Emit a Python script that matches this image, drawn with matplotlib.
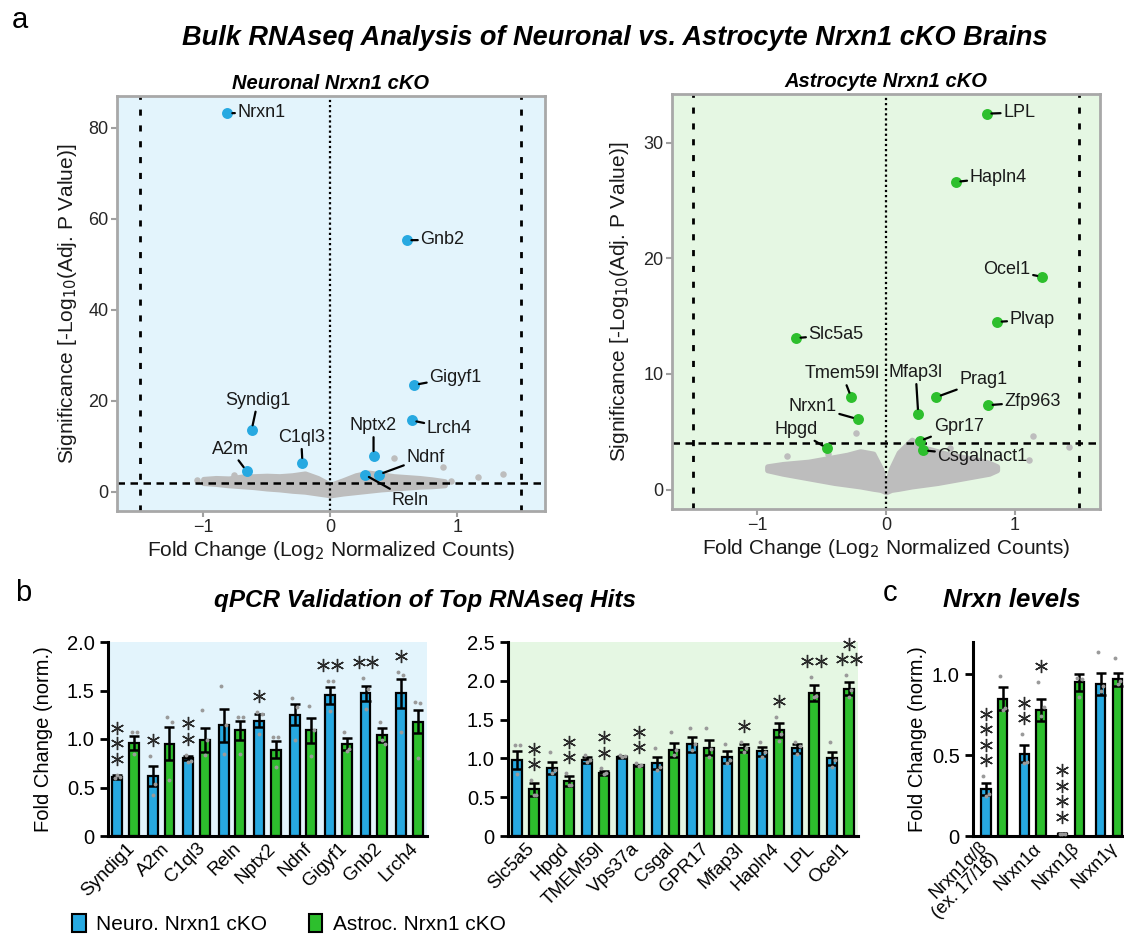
import matplotlib.pyplot as plt
from matplotlib.patches import Patch
from matplotlib.transforms import offset_copy

plt.rcParams['font.family'] = ['Liberation Sans', 'DejaVu Sans']

BLUE = '#27A9E1'
GREEN = '#2DBF2D'
GREY = '#BDBDBD'
DOT = '#9A9A9A'
BG_BLUE = '#E3F4FC'
BG_GREEN = '#E5F7E3'

# ── Volcano data: neuronal Nrxn1 cKO ──────────────────────────────────────
NEU_GENES = ['Nrxn1', 'Gnb2', 'Gigyf1', 'Lrch4', 'Syndig1', 'C1ql3', 'A2m', 'Nptx2', 'Ndnf', 'Reln']
NEU_FC = [-0.81, 0.60, 0.66, 0.64, -0.62, -0.22, -0.66, 0.34, 0.38, 0.27]
NEU_SIG = [83.2, 55.3, 23.5, 15.7, 13.6, 6.4, 4.6, 7.9, 3.8, 3.8]
NEU_OTHER_FC = [-1.05, -0.76, 0.50, 0.89, 1.16, 1.36, 0.95]
NEU_OTHER_SIG = [2.7, 3.7, 7.4, 5.5, 3.3, 4.0, 2.5]
NEU_CLOUD_FC = [-1.0, -0.9, -0.8, -0.7, -0.6, -0.5, -0.4, -0.3, -0.2, -0.1,
                0.0, 0.1, 0.2, 0.3, 0.4, 0.5, 0.6, 0.7, 0.8, 0.9]
NEU_CLOUD_HI = [2.8, 3.0, 2.9, 3.3, 3.4, 3.5, 3.4, 3.6, 4.0, 3.0,
                1.5, 2.5, 3.6, 4.2, 3.8, 3.4, 3.2, 3.0, 2.7, 2.3]
NEU_CLOUD_LO = [2.0, 1.8, 1.5, 1.3, 1.1, 0.8, 0.6, 0.3, 0.1, -0.3,
                -0.7, -0.3, 0.0, 0.3, 0.6, 0.8, 1.0, 1.2, 1.3, 1.5]

# ── Volcano data: astrocyte Nrxn1 cKO ─────────────────────────────────────
AST_GENES = ['LPL', 'Hapln4', 'Ocel1', 'Plvap', 'Slc5a5', 'Tmem59l', 'Nrxn1', 'Hpgd',
             'Mfap3l', 'Prag1', 'Zfp963', 'Gpr17', 'Csgalnact1']
AST_FC = [0.78, 0.54, 1.21, 0.86, -0.70, -0.27, -0.22, -0.46, 0.25, 0.39, 0.79, 0.26, 0.29]
AST_SIG = [32.5, 26.6, 18.4, 14.5, 13.1, 8.0, 6.1, 3.6, 6.55, 8.0, 7.3, 4.2, 3.4]
AST_OTHER_FC = [-0.77, -0.23, 1.14, 1.11, 1.42, -0.45, 0.50]
AST_OTHER_SIG = [2.9, 4.9, 4.6, 2.6, 3.7, 3.1, 3.6]
AST_CLOUD_FC = [-0.92, -0.8, -0.7, -0.6, -0.5, -0.4, -0.3, -0.2, -0.1, -0.04, 0.0,
                0.04, 0.1, 0.2, 0.3, 0.4, 0.5, 0.6, 0.7, 0.8, 0.86]
AST_CLOUD_HI = [2.0, 2.2, 2.3, 2.4, 2.6, 2.8, 3.0, 3.3, 3.1, 1.8, 0.3,
                1.8, 3.2, 4.3, 3.6, 3.3, 3.0, 2.8, 2.6, 2.3, 2.0]
AST_CLOUD_LO = [1.7, 1.4, 1.2, 1.0, 0.8, 0.6, 0.45, 0.3, 0.1, 0.0, -0.2,
                0.0, 0.1, 0.3, 0.45, 0.6, 0.8, 1.0, 1.2, 1.4, 1.7]

# label text placement (x, y, ha)
NEU_LABELS = {
    'Nrxn1': (-0.73, 83.4, 'left'), 'Gnb2': (0.71, 55.4, 'left'),
    'Gigyf1': (0.78, 25.2, 'left'), 'Lrch4': (0.76, 14.0, 'left'),
    'Syndig1': (-0.57, 20.1, 'center'), 'A2m': (-0.79, 9.4, 'center'),
    'C1ql3': (-0.23, 11.9, 'center'), 'Nptx2': (0.34, 14.5, 'center'),
    'Ndnf': (0.60, 7.6, 'left'), 'Reln': (0.48, -1.8, 'left'),
}
AST_LABELS = {
    'LPL': (0.91, 32.6, 'left'), 'Hapln4': (0.65, 27.0, 'left'),
    'Ocel1': (1.12, 19.0, 'right'), 'Plvap': (0.96, 14.7, 'left'),
    'Slc5a5': (-0.60, 13.4, 'left'), 'Tmem59l': (-0.34, 10.0, 'center'),
    'Nrxn1': (-0.57, 7.2, 'center'), 'Hpgd': (-0.70, 5.2, 'center'),
    'Mfap3l': (0.23, 10.1, 'center'), 'Prag1': (0.57, 9.5, 'left'),
    'Zfp963': (0.92, 7.6, 'left'), 'Gpr17': (0.37, 5.5, 'left'),
    'Csgalnact1': (0.40, 2.9, 'left'),
}

# ── qPCR data, neuronal hits ──────────────────────────────────────────────
B1_GENES = ['Syndig1', 'A2m', 'C1ql3', 'Reln', 'Nptx2', 'Ndnf', 'Gigyf1', 'Gnb2', 'Lrch4']
B1_NEURO = [0.61, 0.62, 0.80, 1.14, 1.19, 1.25, 1.45, 1.47, 1.47]
B1_NEURO_ERR = [0.02, 0.10, 0.02, 0.17, 0.07, 0.11, 0.09, 0.08, 0.15]
B1_NEURO_DOTS = [[0.60, 0.61, 0.63], [0.82, 0.54, 0.42], [0.84, 0.77, 0.76],
                 [1.55, 1.14, 0.85], [1.28, 1.26, 1.05], [1.42, 1.33, 0.99],
                 [1.60, 1.60, 1.29], [1.63, 1.52, 1.31], [1.69, 1.66, 1.07]]
B1_NEURO_SIG = ['*\n*\n*', '*', '*\n*', '', '*', '', '**', '**', '*']
B1_ASTRO = [0.96, 0.95, 0.99, 1.09, 0.89, 1.09, 0.95, 1.04, 1.18]
B1_ASTRO_ERR = [0.07, 0.17, 0.12, 0.10, 0.09, 0.13, 0.06, 0.07, 0.12]
B1_ASTRO_DOTS = [[1.07, 1.07, 0.85], [1.23, 1.18, 0.58], [1.30, 0.99, 0.83],
                 [1.23, 1.23, 0.85], [1.02, 1.02, 0.71], [1.34, 1.09, 0.82],
                 [1.07, 0.90, 0.88], [1.18, 0.95, 0.99], [1.38, 1.37, 0.80]]
B1_ASTRO_SIG = [''] * 9

# ── qPCR data, astrocyte hits ─────────────────────────────────────────────
B2_GENES = ['Slc5a5', 'Hpgd', 'TMEM59l', 'Vps37a', 'Csgal', 'GPR17', 'Mfap3l', 'Hapln4', 'LPL', 'Ocel1']
B2_NEURO = [0.98, 0.88, 0.98, 1.02, 0.94, 1.18, 1.02, 1.09, 1.13, 1.00]
B2_NEURO_ERR = [0.12, 0.08, 0.04, 0.01, 0.08, 0.10, 0.08, 0.06, 0.06, 0.08]
B2_NEURO_DOTS = [[1.17, 1.17, 0.80], [1.08, 0.85, 0.81], [1.05, 0.98, 0.95],
                 [1.04, 1.03, 1.02], [1.13, 0.89, 0.85], [1.39, 1.18, 1.11],
                 [1.18, 0.98, 0.94], [1.21, 1.08, 1.02], [1.21, 1.16, 1.06],
                 [1.21, 0.98, 0.89]]
B2_NEURO_SIG = [''] * 10
B2_ASTRO = [0.60, 0.71, 0.81, 0.91, 1.11, 1.14, 1.13, 1.36, 1.84, 1.90]
B2_ASTRO_ERR = [0.08, 0.06, 0.03, 0.01, 0.09, 0.10, 0.05, 0.09, 0.10, 0.08]
B2_ASTRO_DOTS = [[0.72, 0.53, 0.53], [0.81, 0.66, 0.66], [0.87, 0.81, 0.80],
                 [0.94, 0.91, 0.90], [1.34, 1.11, 1.04], [1.39, 1.12, 1.02],
                 [1.21, 1.13, 1.08], [1.53, 1.32, 1.23], [2.05, 1.81, 1.79],
                 [2.07, 1.88, 1.79]]
B2_ASTRO_SIG = ['*\n*', '*\n*', '*\n*', '*\n*', '', '', '*', '*', '**', '*\n**']

# ── Nrxn levels ───────────────────────────────────────────────────────────
C_GENES = ['Nrxn1α/β\n(ex. 17/18)', 'Nrxn1α', 'Nrxn1β', 'Nrxn1γ']
C_NEURO = [0.29, 0.51, 0.015, 0.94]
C_NEURO_ERR = [0.035, 0.05, 0.005, 0.07]
C_NEURO_DOTS = [[0.37, 0.26, 0.25], [0.63, 0.46, 0.45], [0.01, 0.01, 0.01], [1.14, 0.93, 0.90]]
C_NEURO_SIG = ['*\n*\n*\n*', '*\n*', '*\n*\n*\n*', '']
C_ASTRO = [0.85, 0.78, 0.95, 0.97]
C_ASTRO_ERR = [0.07, 0.07, 0.05, 0.04]
C_ASTRO_DOTS = [[0.99, 0.79, 0.78], [0.95, 0.80, 0.74], [0.98, 0.97, 0.86], [1.10, 0.96, 0.94]]
C_ASTRO_SIG = ['', '*', '', '']

W, H = 1124, 936
fig = plt.figure(figsize=(W / 100, H / 100), dpi=100)


def place(l, t, r, b):
    return fig.add_axes([l / W, 1 - b / H, (r - l) / W, (b - t) / H])


def volcano(ax, genes, fc, sig, cloud, other, labels, color, bg, title, thresh, ylab_x):
    ax.set_facecolor(bg)
    ax.fill_between(cloud[0], cloud[2], cloud[1], facecolor=GREY, edgecolor=GREY,
                    lw=4, joinstyle='round', zorder=1)
    ax.scatter(other[0], other[1], s=22, color=GREY, lw=0, zorder=1)
    ax.axvline(0, color='black', ls=(0, (1, 1.3)), lw=1.6, zorder=2)
    for xv in (-1.5, 1.5):
        ax.axvline(xv, color='black', ls=(0, (2.2, 3.5)), lw=2, zorder=2)
    ax.axhline(thresh, color='black', ls=(0, (3, 2.2)), lw=1.8, zorder=2)
    ax.scatter(fc, sig, s=62, color=color, lw=0, zorder=4)
    for g, x, y in zip(genes, fc, sig):
        tx, ty, ha = labels[g]
        ax.annotate(g, (x, y), xytext=(tx, ty), ha=ha, va='center', fontsize=13,
                    color='#1a1a1a', zorder=5,
                    arrowprops=dict(arrowstyle='-', color='black', lw=1.6,
                                    shrinkA=0, shrinkB=3.5))
    for s in ax.spines.values():
        s.set_color('#A8A8A8')
        s.set_linewidth(2)
    ax.tick_params(color='#A0A0A0', length=4, width=1.5, labelsize=13,
                   labelcolor='#262626', pad=2)
    ax.set_title(title, fontsize=14.5, fontweight='bold', fontstyle='italic', pad=5)
    ax.set_xlabel('Fold Change (Log$_2$ Normalized Counts)', fontsize=15, color='#1a1a1a')
    ax.set_ylabel('Significance [-Log$_{10}$(Adj. P Value)]', fontsize=15, color='#1a1a1a')
    ax.set_xticks([-1, 0, 1])
    ax.yaxis.set_label_coords(ylab_x, 0.5)
    ax.xaxis.set_label_coords(0.5, -0.068)


def stars(ax, x, base, text):
    # stack rows of asterisks upward from just above the bar
    for row, line in enumerate(reversed(text.split('\n'))):
        n = len(line)
        for k in range(n):
            tr = offset_copy(ax.transData, fig=fig, x=(k - (n - 1) / 2) * 9.8,
                             y=11.5 + row * 11.2, units='points')
            ax.plot([x], [base], marker=(6, 2, 0), ms=9.5, mew=1.0, color='#2a2a2a',
                    transform=tr, clip_on=False, zorder=6)


def bars(ax, genes, groups, width, off, ylim, yticks, bg, xfont):
    if bg:
        ax.set_facecolor(bg)
    for sign, vals, errs, dots, sigs, col in groups:
        xs = [i + sign * off for i in range(len(genes))]
        ax.bar(xs, vals, width=width, color=col, edgecolor='black', lw=1.6, zorder=2)
        ax.errorbar(xs, vals, yerr=errs, fmt='none', ecolor='black', elinewidth=1.8,
                    capsize=3.4, capthick=1.8, zorder=3)
        for xi, v, e, d, s in zip(xs, vals, errs, dots, sigs):
            ax.plot([xi - 0.07, xi + 0.07, xi][:len(d)], d, 'o', ms=2.8, mew=0,
                    color=DOT, zorder=4)
            if s:
                stars(ax, xi, max(v + e, max(d)), s)
    ax.set_xlim(-0.5, len(genes) - 0.5)
    ax.set_ylim(*ylim)
    ax.set_yticks(yticks)
    ax.set_yticklabels(['0' if t == 0 else f'{t:.1f}' for t in yticks])
    ax.set_xticks(range(len(genes)))
    ax.set_xticklabels([])
    # rotated category names, right end at the group centre
    for i, g in enumerate(genes):
        nl = g.count('\n')
        tr = offset_copy(ax.get_xaxis_transform(), fig=fig, x=-16 * nl, y=-4 + 2 * nl,
                         units='dots')
        ax.text(i, 0, g, transform=tr, rotation=45, ha='right', va='top',
                rotation_mode='anchor', fontsize=xfont, linespacing=0.95)
    ax.spines[['top', 'right']].set_visible(False)
    ax.spines[['left', 'bottom']].set_linewidth(2.2)
    ax.tick_params(axis='y', length=6, width=2, labelsize=14.5)
    ax.tick_params(axis='x', length=0)


# ── Panel a ────────────────────────────────────────────────────────────────
ax1 = place(117, 96, 545, 511)
volcano(ax1, NEU_GENES, NEU_FC, NEU_SIG, (NEU_CLOUD_FC, NEU_CLOUD_HI, NEU_CLOUD_LO),
        (NEU_OTHER_FC, NEU_OTHER_SIG), NEU_LABELS, BLUE, BG_BLUE, 'Neuronal Nrxn1 cKO', 2, -0.089)
ax1.set_xlim(-1.68, 1.69)
ax1.set_ylim(-4.2, 87)
ax1.set_yticks([0, 20, 40, 60, 80])

ax2 = place(672, 94, 1100, 509)
volcano(ax2, AST_GENES, AST_FC, AST_SIG, (AST_CLOUD_FC, AST_CLOUD_HI, AST_CLOUD_LO),
        (AST_OTHER_FC, AST_OTHER_SIG), AST_LABELS, GREEN, BG_GREEN, 'Astrocyte Nrxn1 cKO', 4, -0.096)
ax2.set_xlim(-1.66, 1.66)
ax2.set_ylim(-1.67, 34.2)
ax2.set_yticks([0, 10, 20, 30])

# ── Panel b ────────────────────────────────────────────────────────────────
ax3 = place(108, 642, 427, 836)
bars(ax3, B1_GENES,
     [(-1, B1_NEURO, B1_NEURO_ERR, B1_NEURO_DOTS, B1_NEURO_SIG, BLUE),
      (1, B1_ASTRO, B1_ASTRO_ERR, B1_ASTRO_DOTS, B1_ASTRO_SIG, GREEN)],
     0.28, 0.235, (0, 2.0), [0, 0.5, 1.0, 1.5, 2.0], BG_BLUE, 13.5)
ax3.set_ylabel('Fold Change (norm.)', fontsize=14.5)
ax3.yaxis.set_label_coords(-0.173, 0.5)

ax4 = place(508, 642, 858, 836)
bars(ax4, B2_GENES,
     [(-1, B2_NEURO, B2_NEURO_ERR, B2_NEURO_DOTS, B2_NEURO_SIG, BLUE),
      (1, B2_ASTRO, B2_ASTRO_ERR, B2_ASTRO_DOTS, B2_ASTRO_SIG, GREEN)],
     0.28, 0.235, (0, 2.5), [0, 0.5, 1.0, 1.5, 2.0, 2.5], BG_GREEN, 13.5)

# ── Panel c ────────────────────────────────────────────────────────────────
ax5 = place(973, 642, 1124, 836)
bars(ax5, C_GENES,
     [(-1, C_NEURO, C_NEURO_ERR, C_NEURO_DOTS, C_NEURO_SIG, BLUE),
      (1, C_ASTRO, C_ASTRO_ERR, C_ASTRO_DOTS, C_ASTRO_SIG, GREEN)],
     0.24, 0.22, (0, 1.2), [0, 0.5, 1.0], None, 13)
ax5.set_xlim(-0.56, 3.39)
ax5.set_ylabel('Fold Change (norm.)', fontsize=14.5)
ax5.yaxis.set_label_coords(-0.305, 0.5)

# ── Figure text ────────────────────────────────────────────────────────────
bold_it = dict(fontsize=17.5, fontweight='bold', fontstyle='italic', ha='center', va='center')
fig.text(20 / W, 1 - 20 / H, 'a', fontsize=21, ha='center', va='center')
fig.text(615 / W, 1 - 38 / H, 'Bulk RNAseq Analysis of Neuronal vs. Astrocyte Nrxn1 cKO Brains',
         **dict(bold_it, fontsize=19.5))
fig.text(23 / W, 1 - 593 / H, 'b', fontsize=21, ha='center', va='center')
fig.text(425 / W, 1 - 600 / H, 'qPCR Validation of Top RNAseq Hits', **bold_it)
fig.text(890 / W, 1 - 593 / H, 'c', fontsize=21, ha='center', va='center')
fig.text(1012 / W, 1 - 600 / H, 'Nrxn levels', **dict(bold_it, fontsize=18.5))

handles = [Patch(facecolor=BLUE, edgecolor='black', lw=1.5),
           Patch(facecolor=GREEN, edgecolor='black', lw=1.5)]
fig.legend(handles, ['Neuro. Nrxn1 cKO', 'Astroc. Nrxn1 cKO'], loc='center left',
           bbox_to_anchor=(72 / W, 1 - 924 / H), ncol=2, frameon=False, fontsize=15,
           handlelength=0.65, handleheight=0.95, handletextpad=0.5, columnspacing=2.0,
           borderpad=0, borderaxespad=0)

fig.savefig('out.png', dpi=100)
